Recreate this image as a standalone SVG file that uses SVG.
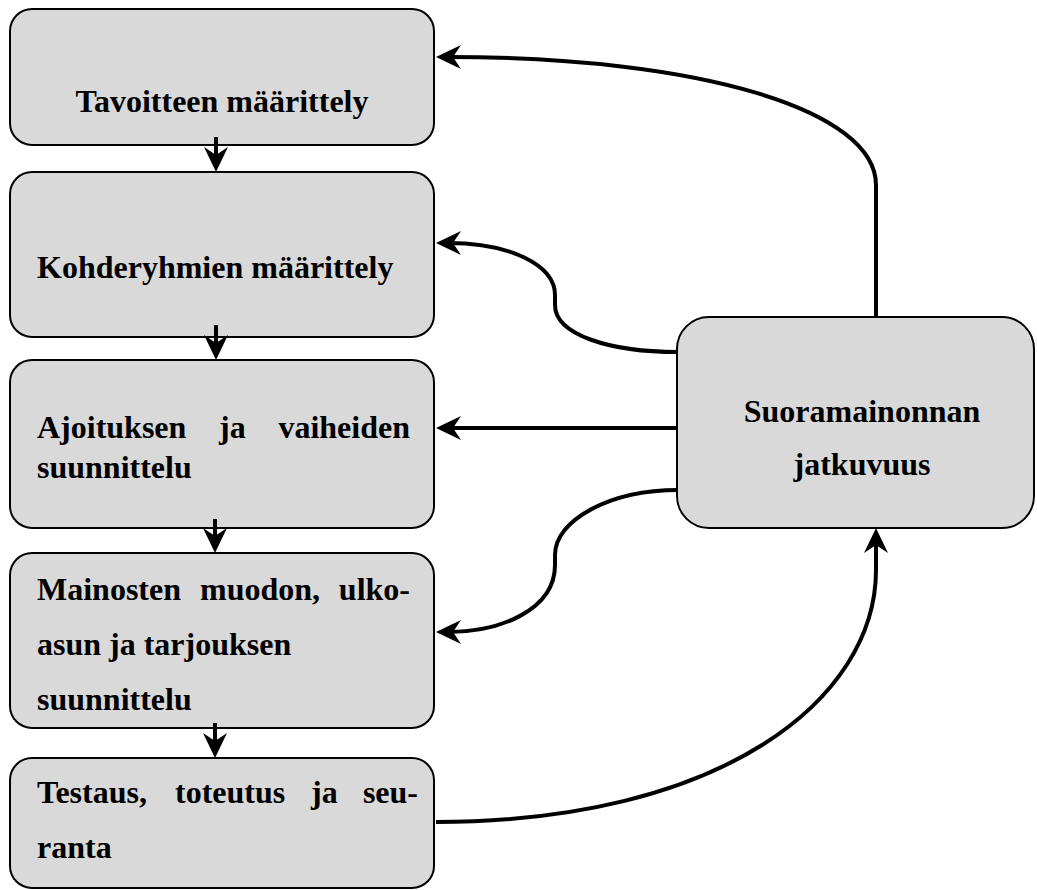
<svg xmlns="http://www.w3.org/2000/svg" width="1037" height="890" viewBox="0 0 1037 890">
<defs>
<style>
.box{fill:#d9d9d9;stroke:#000;stroke-width:2}
.t{font-family:"Liberation Serif","Times New Roman",serif;font-weight:bold;font-size:32px;fill:#000}
.c{fill:none;stroke:#000;stroke-width:4}
</style>
<marker id="ah" markerUnits="userSpaceOnUse" viewBox="0 -13 26 26" refX="13" refY="0" markerWidth="26" markerHeight="26" orient="auto">
<path d="M0,-12 L25,0 L0,12 L8,0 z" fill="#000"/>
</marker>
</defs>
<rect width="1037" height="890" fill="#fff"/>
<g id="n1"><rect class="box" x="10" y="9" width="424" height="136" rx="22"/><text class="t" x="222" y="112" text-anchor="middle">Tavoitteen määrittely</text></g>
<g id="n2"><rect class="box" x="10" y="172" width="424" height="165" rx="22"/><text class="t" x="37" y="278">Kohderyhmien määrittely</text></g>
<g id="n3"><rect class="box" x="10" y="360" width="424" height="168" rx="22"/>
<text class="t" x="37" y="438">Ajoituksen</text><text class="t" x="219" y="438">ja</text><text class="t" x="410" y="438" text-anchor="end">vaiheiden</text>
<text class="t" x="37" y="478">suunnittelu</text></g>
<g id="n4"><rect class="box" x="10" y="553" width="424" height="175" rx="22"/>
<text class="t" x="37" y="600">Mainosten</text><text class="t" x="200" y="600">muodon,</text><text class="t" x="410" y="600" text-anchor="end">ulko-</text>
<text class="t" x="37" y="655">asun ja tarjouksen</text>
<text class="t" x="37" y="710">suunnittelu</text></g>
<g id="n5"><rect class="box" x="10" y="758" width="424" height="130" rx="22"/>
<text class="t" x="37" y="803">Testaus,</text><text class="t" x="175" y="803">toteutus</text><text class="t" x="311" y="803">ja</text><text class="t" x="418" y="803" text-anchor="end">seu-</text>
<text class="t" x="37" y="858">ranta</text></g>
<g id="n6"><rect class="box" x="677" y="317" width="357" height="211" rx="32"/>
<text class="t" x="862" y="422" text-anchor="middle">Suoramainonnan</text>
<text class="t" x="862" y="475" text-anchor="middle">jatkuvuus</text></g>
<g id="connectors">
<path class="c" d="M216,137 V160" marker-end="url(#ah)"/>
<path class="c" d="M216,325 V348" marker-end="url(#ah)"/>
<path class="c" d="M215,519 V541" marker-end="url(#ah)"/>
<path class="c" d="M215,723 V746" marker-end="url(#ah)"/>
<path class="c" d="M876,317 V185 C876,110 700,57 448,57" marker-end="url(#ah)"/>
<path class="c" d="M678,352 C610,352 555,335 555,305 L555,295 C555,265 510,243 448,243" marker-end="url(#ah)"/>
<path class="c" d="M678,428 H448" marker-end="url(#ah)"/>
<path class="c" d="M678,490 C610,490 555,520 555,555 L555,565 C555,610 500,632 448,632" marker-end="url(#ah)"/>
<path class="c" d="M436,822 C720,822 876,700 876,570 V540" marker-end="url(#ah)"/>
</g>
</svg>
